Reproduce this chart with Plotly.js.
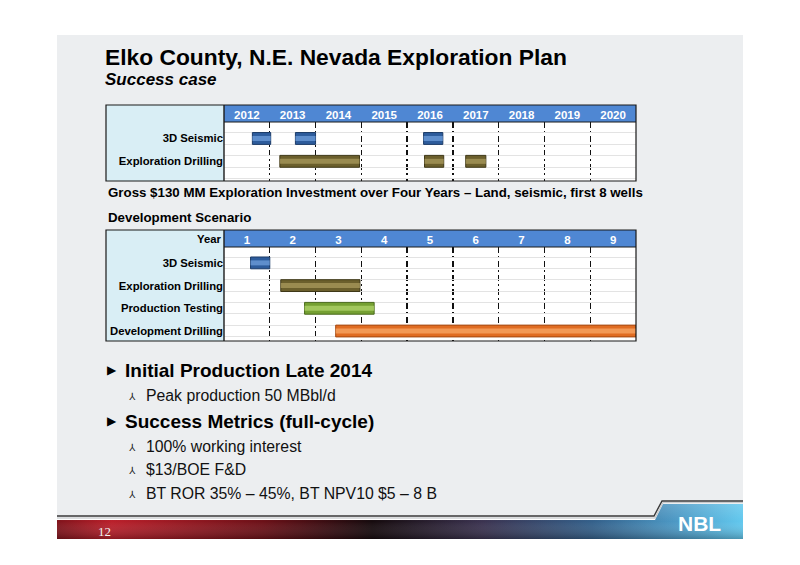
<!DOCTYPE html>
<html lang="en">
<head>
    <meta charset="UTF-8">
    <title>Elko County Exploration Plan</title>
    <script src="https://cdn.plot.ly/plotly-3.0.1.min.js"></script>
    <style>
        body { margin: 0; background: #fff; }
        #slide { position: relative; width: 800px; height: 565px; overflow: hidden; }
        #bg, #plot { position: absolute; left: 0; top: 0; }
    </style>
</head>

<body>

<div id="slide">
    <svg id="bg" width="800" height="565">
        <defs>
            <linearGradient id="band" x1="0" x2="1" y1="0" y2="0">
                <stop offset="0" stop-color="#80141c"/>
                <stop offset="0.08" stop-color="#ba202b"/>
                <stop offset="0.3" stop-color="#6c1118"/>
                <stop offset="0.46" stop-color="#160b0e"/>
                <stop offset="0.62" stop-color="#3b3350"/>
                <stop offset="0.78" stop-color="#34608a"/>
                <stop offset="0.9" stop-color="#4c98c4"/>
                <stop offset="1" stop-color="#62c8ee"/>
            </linearGradient>
            <linearGradient id="shade" x1="0" x2="0" y1="0" y2="1">
                <stop offset="0" stop-color="#fff" stop-opacity="0.15"/>
                <stop offset="0.5" stop-color="#fff" stop-opacity="0"/>
                <stop offset="1" stop-color="#000" stop-opacity="0.25"/>
            </linearGradient>
            <linearGradient id="sep" x1="0" x2="1" y1="0" y2="0">
                <stop offset="0" stop-color="#222"/>
                <stop offset="0.6" stop-color="#999"/>
                <stop offset="1" stop-color="#eceef0"/>
            </linearGradient>
        </defs>
        <rect x="57" y="35" width="686" height="484" fill="#eceef0"/>
        <path d="M57 520 L655 520 L663 504 L743 504 L743 539 L57 539 Z" fill="url(#band)"/>
        <path d="M57 520 L655 520 L663 504 L743 504 L743 539 L57 539 Z" fill="url(#shade)"/>
        <polyline points="57,516 654,516 662,501 743,501" fill="none" stroke="#3a3a3a" stroke-width="1.4"/>
        <polyline points="57,518 655,518 663,502.5 743,502.5" fill="none" stroke="#c8cacc" stroke-width="1.2"/>
        <line x1="106" y1="91" x2="645" y2="91" stroke="url(#sep)" stroke-width="1.6"/>
    </svg>
    <div id="plot"></div>
</div>

</body>

<script>
    // exploration plan (calendar years)
    let planYears = [2012, 2013, 2014, 2015, 2016, 2017, 2018, 2019, 2020]
    let planTasks = ["3D Seismic", "Exploration Drilling"]
    let seismicStart = [2012.12, 2013.06, 2015.86]
    let seismicEnd = [2012.52, 2013.5, 2016.28]
    let drillingStart = [2012.72, 2015.88, 2016.78]
    let drillingEnd = [2014.46, 2016.3, 2017.22]

    // development scenario (project year)
    let devYears = [1, 2, 3, 4, 5, 6, 7, 8, 9]
    let devTasks = ["3D Seismic", "Exploration Drilling", "Production Testing", "Development Drilling"]
    let devStart = [1.08, 1.74, 2.26, 2.94]
    let devEnd = [1.5, 3.47, 3.78, 9.5]

    let bullets = ["Initial Production Late 2014", "Success Metrics (full-cycle)"]
    let subBullets = [["Peak production 50 MBbl/d"],
        ["100% working interest", "$13/BOE F&D", "BT ROR 35% \u2013 45%, BT NPV10 $5 \u2013 8 B"]]

    let taskColors = {
        "3D Seismic": ["#2d5c9c", "#6f9fdc", "#1d3c68"],
        "Exploration Drilling": ["#6b5f2c", "#a99a5c", "#3f3818"],
        "Production Testing": ["#75a032", "#b2d46c", "#4a6a1c"],
        "Development Drilling": ["#e06c22", "#f8a868", "#a24812"]
    }

    const W = 800, H = 565
    const px = v => v / W
    const py = v => 1 - v / H
    const font = "Liberation Sans, Arial, sans-serif"

    function barPair(row, task, starts, ends, xa, ya) {
        let c = taskColors[task]
        let y = starts.map(() => row)
        let len = starts.map((s, i) => ends[i] - s)
        let common = {type: "bar", orientation: "h", y: y, x: len, base: starts,
            xaxis: xa, yaxis: ya, hoverinfo: "skip", showlegend: false}
        return [
            Object.assign({}, common, {width: 0.52, marker: {color: c[0], line: {color: c[2], width: 1}}}),
            Object.assign({}, common, {width: 0.22, marker: {color: c[1], line: {width: 0}}, opacity: 0.75})
        ]
    }

    let data = []
    data = data.concat(barPair(0, planTasks[0], seismicStart, seismicEnd, "x", "y"))
    data = data.concat(barPair(1, planTasks[1], drillingStart, drillingEnd, "x", "y"))
    devTasks.forEach((t, i) => {
        data = data.concat(barPair(i, t, [devStart[i]], [devEnd[i]], "x2", "y2"))
    })

    function xAxis(vals, anchor) {
        return {
            domain: [px(224), px(636)], range: [vals[0] - 0.5, vals[vals.length - 1] + 0.5],
            anchor: anchor, side: "top", tickvals: vals, ticktext: vals.map(String),
            tickfont: {family: font, size: 11.5, color: "#fff", weight: "bold"},
            ticks: "", showgrid: false, zeroline: false, showline: false, fixedrange: true,
            minor: {tick0: vals[0] - 0.5, dtick: 1, showgrid: true, gridcolor: "#111",
                griddash: "6px,3px,2px,3px", gridwidth: 1.3, ticks: ""}
        }
    }

    function yAxis(tasks, anchor, top, bottom, rng) {
        return {
            domain: [py(bottom), py(top)], range: rng, anchor: anchor,
            tickvals: tasks.map((t, i) => i), ticktext: tasks,
            tickfont: {family: font, size: 11.3, color: "#000", weight: "bold"},
            ticks: "", showgrid: false, zeroline: false, showline: false, fixedrange: true,
            minor: {tick0: -0.25, dtick: 0.5, showgrid: true, gridcolor: "#e3e3e3", gridwidth: 1, ticks: ""}
        }
    }

    function rect(x0, y0, x1, y1, fill, lineColor, layer) {
        return {type: "rect", xref: "paper", yref: "paper", x0: px(x0), x1: px(x1), y0: py(y0), y1: py(y1),
            fillcolor: fill, line: {color: lineColor || "rgba(0,0,0,0)", width: lineColor ? 1.2 : 0},
            layer: layer || "below"}
    }

    function hline(x0, x1, y, w) {
        return {type: "line", xref: "paper", yref: "paper", x0: px(x0), x1: px(x1), y0: py(y), y1: py(y),
            line: {color: "#1a1a1a", width: w}}
    }

    function vline(x, y0, y1, w) {
        return {type: "line", xref: "paper", yref: "paper", x0: px(x), x1: px(x), y0: py(y0), y1: py(y1),
            line: {color: "#1a1a1a", width: w}}
    }

    let shapes = [
        rect(106, 105, 224, 181, "#d9eef5"),
        rect(224, 105, 636, 122, "#4f87d3"),
        rect(106, 105, 636, 181, "rgba(0,0,0,0)", "#1a1a1a", "above"),
        vline(224, 105, 181, 1.4),
        hline(224, 636, 122, 1),
        rect(106, 230, 224, 341, "#d9eef5"),
        rect(224, 230, 636, 247, "#4f87d3"),
        rect(106, 230, 636, 341, "rgba(0,0,0,0)", "#1a1a1a", "above"),
        vline(224, 230, 341, 1.4),
        hline(224, 636, 247, 1)
    ]

    function note(x, y, text, size, opts) {
        return Object.assign({xref: "paper", yref: "paper", x: px(x), y: py(y), text: text,
            showarrow: false, xanchor: "left", yanchor: "middle",
            font: {family: font, size: size, color: "#000"}}, opts || {})
    }

    // title and subtitle share one text block so their lines sit tight like the slide
    let titleText = "<span style='font-size:22.8px'><b>Elko County, N.E. Nevada Exploration Plan</b></span>" +
        "<br><span style='font-size:17px'><b><i>Success case</i></b></span>"

    let annotations = [
        note(104, 67, titleText, 15.5, {borderpad: 0, align: "left"}),
        note(106, 192, "<b>Gross $130 MM Exploration Investment over Four Years \u2013 Land, seismic, first 8 wells</b>", 13.3),
        note(106, 217, "<b>Development Scenario</b>", 13.3),
        note(223, 239, "<b>Year</b>", 11.3, {xanchor: "right"}),
        note(96, 531, "12", 12, {font: {family: "Liberation Serif, serif", size: 13, color: "#f2f2f2"}}),
        note(676, 523, "<b>NBL</b>", 20, {font: {family: "Liberation Sans Narrow, Liberation Sans, sans-serif", size: 21, color: "#fff"}})
    ]

    let rowY = 370
    bullets.forEach((b, i) => {
        annotations.push(note(105, rowY, "\u25B6", 12, {font: {family: "DejaVu Sans", size: 12, color: "#000"}}))
        annotations.push(note(123, rowY, "<b>" + b + "</b>", 19))
        rowY += 25
        subBullets[i].forEach(s => {
            annotations.push(note(127, rowY + 1, "\u2144", 10, {font: {family: "DejaVu Sans", size: 10, color: "#222"}}))
            annotations.push(note(144, rowY, s, 15.8, {font: {family: font, size: 15.8, color: "#111"}}))
            rowY += 23.7
        })
        rowY += 2.5
    })

    let layout = {
        width: W, height: H,
        margin: {l: 0, r: 0, t: 0, b: 0},
        paper_bgcolor: "rgba(0,0,0,0)",
        plot_bgcolor: "#fff",
        barmode: "overlay",
        showlegend: false,
        xaxis: xAxis(planYears, "y"),
        yaxis: yAxis(planTasks, "x", 122, 181, [1.86, -0.72]),
        xaxis2: xAxis(devYears, "y2"),
        yaxis2: yAxis(devTasks, "x2", 247, 341, [3.44, -0.7]),
        shapes: shapes,
        annotations: annotations
    }

    Plotly.newPlot("plot", data, layout, {displayModeBar: false, staticPlot: true})
</script>
</html>
